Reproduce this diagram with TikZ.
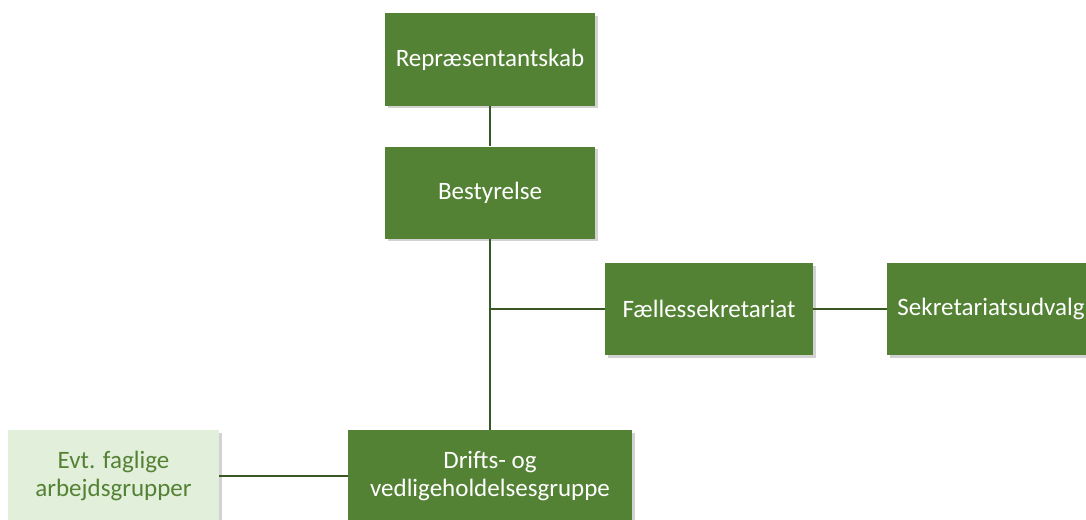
\documentclass[tikz,border=0pt]{standalone}
\usepackage{fontspec}
\setmainfont{Carlito}
\usetikzlibrary{shadows}
\definecolor{dkgreen}{HTML}{548235}
\definecolor{ltgreen}{HTML}{E2EFDA}
\definecolor{linegreen}{HTML}{385723}
\tikzset{
  orgbox/.style={rectangle, fill=dkgreen, text=white, minimum width=210pt,
    minimum height=92pt, inner sep=0pt, align=center,
    font=\fontsize{25}{28}\selectfont,
    drop shadow={shadow xshift=2.5pt, shadow yshift=-2.5pt, opacity=0.35, fill=gray}},
  lightbox/.style={orgbox, fill=ltgreen, text=dkgreen},
  conn/.style={draw=linegreen, line width=1.8pt}
}
\begin{document}
\begin{tikzpicture}[x=1pt,y=-1pt]
\clip (0,0) rectangle (1086,519);
\fill[white] (0,0) rectangle (1086,519);
\node[orgbox] (rep) at (490,59.5) {Repræsentantskab};
\node[orgbox] (best) at (490,192.5) {Bestyrelse};
\node[orgbox, minimum width=208pt] (faelles) at (709,309) {Fællessekretariat};
\node[orgbox, minimum width=208pt] (sekr) at (991,309) {Sekretariatsudvalg};
\node[orgbox, minimum width=284pt] (drift) at (490,476) {Drifts- og\\vedligeholdelsesgruppe};
\node[lightbox, minimum width=211pt] (evt) at (113.5,476) {Evt. faglige\\arbejdsgrupper};
\coordinate (j) at (best.south |- faelles.west);
\draw[conn] (rep.south) -- (best.north);
\draw[conn] (best.south) -- (drift.north);
\draw[conn] (j) -- (faelles.west);
\draw[conn] (faelles.east) -- (sekr.west);
\draw[conn] (evt.east) -- (drift.west);
\end{tikzpicture}
\end{document}
